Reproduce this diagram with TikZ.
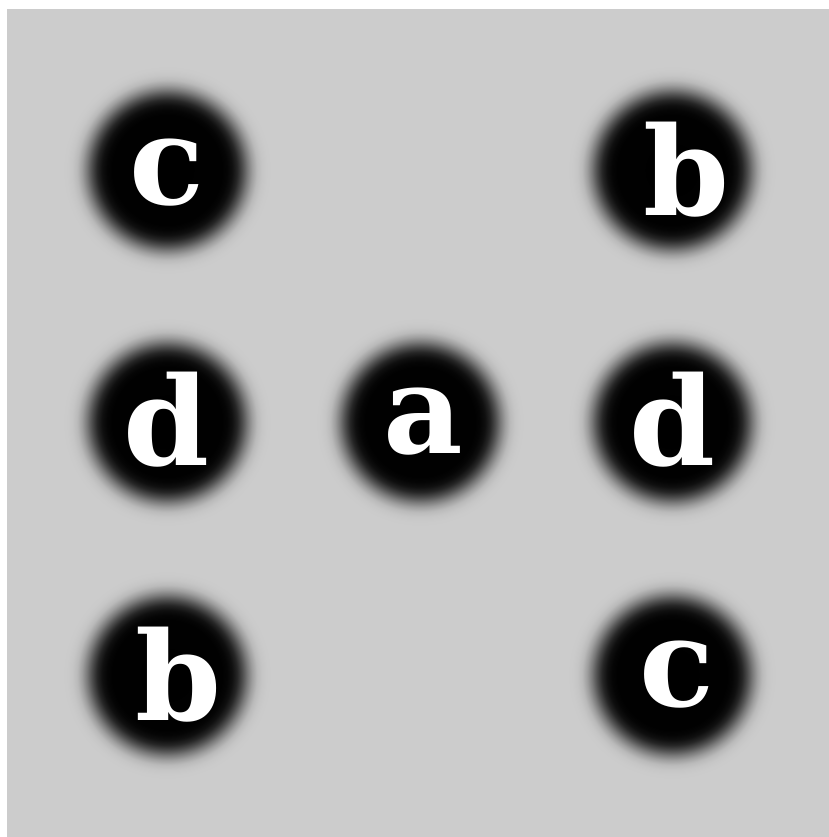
\documentclass[tikz,border=0pt]{standalone}
\usepackage{fontspec}
\setmainfont{DejaVu Serif}

% sfumatura radiale: nero pieno al centro, bordo morbido verso il grigio
\pgfdeclareradialshading{sfocato}{\pgfpoint{0bp}{0bp}}{%
    color(0bp)=(black); color(12.5bp)=(black!99.6);
    color(13.64bp)=(black!98); color(14.77bp)=(black!94);
    color(15.91bp)=(black!85); color(17.05bp)=(black!70);
    color(17.73bp)=(black!60); color(18.18bp)=(black!53);
    color(19.32bp)=(black!38); color(20.45bp)=(black!27);
    color(21.59bp)=(black!22.4); color(22.73bp)=(black!20.6);
    color(23.86bp)=(black!20); color(50bp)=(black!20)}

\tikzset{
    pallino/.style={circle, minimum size=2.2cm, inner sep=0pt,
        shading=sfocato},
    lettera/.style={text=white, inner sep=0pt,
        font=\fontsize{35}{40}\selectfont\bfseries}
}

\begin{document}
\begin{tikzpicture}

        % Sfondo: margine bianco e quadrato grigio
        \useasboundingbox (0,0) rectangle (8.29,8.37);
        \fill[white] (0,0) rectangle (8.29,8.37);
        \fill[black!20] (0.07,0) rectangle (8.29,8.28);

        % Riga in alto
        \node[pallino, label={[lettera, yshift=-0.3mm]center:c}] (c1) at (1.67,6.67) {};
        \node[pallino, label={[lettera, xshift=1.4mm]center:b}] (b1) at (6.72,6.67) {};

        % Riga centrale
        \node[pallino, label={[lettera, yshift=0.2mm]center:d}] (d1) at (1.67,4.15) {};
        \node[pallino, label={[lettera, xshift=0.3mm]center:a}] (a) at (4.20,4.15) {};
        \node[pallino, label={[lettera, yshift=0.2mm]center:d}] (d2) at (6.72,4.15) {};

        % Riga in basso
        \node[pallino, label={[lettera, xshift=1.2mm]center:b}] (b2) at (1.67,1.62) {};
        \node[pallino, label={[lettera, xshift=0.5mm]center:c}] (c2) at (6.72,1.62) {};

    \end{tikzpicture}
\end{document}
